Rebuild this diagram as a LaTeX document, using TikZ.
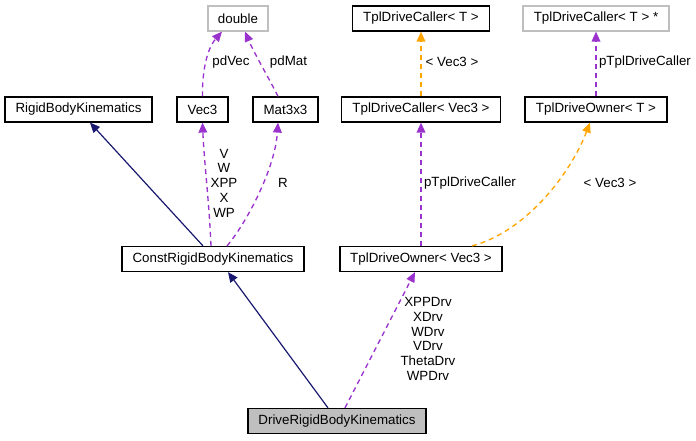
\documentclass[tikz,border=0pt]{standalone}
\usepackage{fontspec}
\setmainfont{Liberation Sans}
\usetikzlibrary{calc,arrows.meta,positioning}
\definecolor{navy}{HTML}{191970}
\definecolor{orchid}{HTML}{9A32CD}
\definecolor{amber}{HTML}{FFA500}
\definecolor{greyline}{HTML}{BFBFBF}
\begin{document}
\begin{tikzpicture}[x=0.75pt, y=-0.75pt,
  box/.style={draw=black, line width=0.9pt, minimum height=18.75pt, inner sep=0pt, font=\fontsize{10}{12}\selectfont},
  ghost/.style={box, draw=greyline},
  lbl/.style={align=center, inner sep=0pt, font=\fontsize{10}{11.06}\selectfont},
  inh/.style={draw=navy, line width=0.9pt, -{Triangle[length=7.5pt,width=6.5pt]}},
  use/.style={draw=orchid, line width=1pt, dash pattern=on 3.75pt off 3pt, -{Triangle[length=7.5pt,width=6.5pt]}},
  tpl/.style={draw=amber, line width=1pt, dash pattern=on 3.75pt off 3pt, -{Triangle[length=7.5pt,width=6.5pt]}}]
\useasboundingbox (0,0) rectangle (696,440);
\node[ghost, minimum width=45pt] (Dbl) at (238,18.5) {double};
\node[box, minimum width=102.75pt] (TDC) at (421,18.5) {TplDriveCaller< T >};
\node[ghost, minimum width=109.5pt] (TDCp) at (596,18.5) {TplDriveCaller< T > *};
\node[box, minimum width=110.25pt] (RBK) at (78.5,109.5) {RigidBodyKinematics};
\node[box, minimum width=38.25pt] (Vec) at (202.5,109.5) {Vec3};
\node[box, minimum width=48.75pt] (Mat) at (285.5,109.5) {Mat3x3};
\node[box, minimum width=119.25pt] (TDCV) at (421,109.5) {TplDriveCaller< Vec3 >};
\node[box, minimum width=106.5pt] (TDO) at (596,109.5) {TplDriveOwner< T >};
\node[box, minimum width=136.5pt] (CRBK) at (213,259) {ConstRigidBodyKinematics};
\node[box, minimum width=121.5pt] (TDOV) at (421,259) {TplDriveOwner< Vec3 >};
\node[box, fill=greyline, minimum width=133.5pt] (DRBK) at (337,421) {DriveRigidBodyKinematics};

\draw[use] (Vec.north) .. controls (202,75) and (206,50) .. ($(Dbl.south)+(-16,0)$) node[lbl] at (231,62) {pdVec};
\draw[use] ($(Mat.north)+(-7.5,0)$) .. controls (270,80) and (255,55) .. ($(Dbl.south)+(7,0)$) node[lbl] at (288.5,62) {pdMat};
\draw[tpl] (TDCV.north) -- (TDC.south) node[lbl] at (452,62) {< Vec3 >};
\draw[use] (TDO.north) -- (TDCp.south) node[lbl] at (645,62) {pTplDriveCaller};

\draw[inh] ($(CRBK.north)+(-10,0)$) -- ($(RBK.south)+(11.5,0)$);
\draw[use] ($(CRBK.north)+(-2,0)$) .. controls (209,200) and (204,160) .. (Vec.south) node[lbl] at (224,183) {V\\W\\XPP\\X\\WP};
\draw[use] ($(CRBK.north)+(14,0)$) .. controls (245,225) and (275,170) .. ($(Mat.south)+(-7.5,0)$) node[lbl] at (283,183) {R};
\draw[use] (TDOV.north) -- (TDCV.south) node[lbl] at (470,183) {pTplDriveCaller};
\draw[tpl] ($(TDOV.north)+(51,0)$) .. controls (525,232) and (570,175) .. ($(TDO.south)+(-6,0)$) node[lbl] at (610,183) {< Vec3 >};

\draw[inh] ($(DRBK.north)+(-9,0)$) -- ($(CRBK.south)+(15,0)$);
\draw[use] ($(DRBK.north)+(8,0)$) -- ($(TDOV.south)+(-6,0)$) node[lbl] at (428,339) {XPPDrv\\XDrv\\WDrv\\VDrv\\ThetaDrv\\WPDrv};
\end{tikzpicture}
\end{document}
